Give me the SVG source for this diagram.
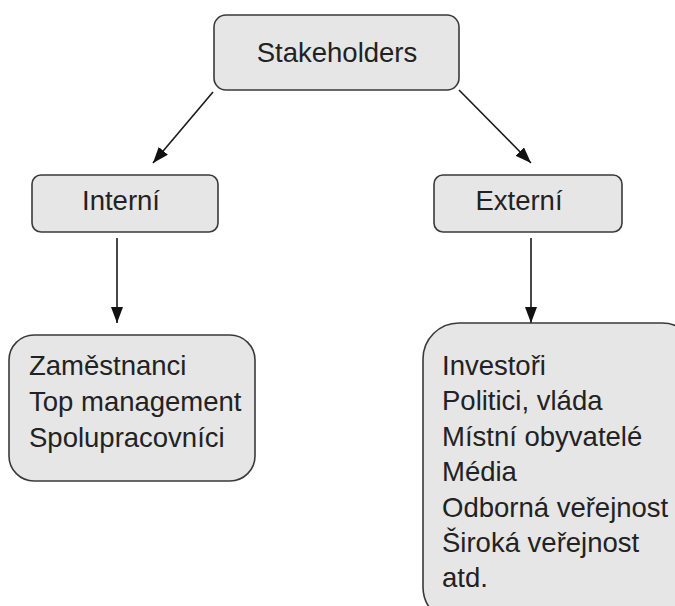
<svg xmlns="http://www.w3.org/2000/svg" width="675" height="606" viewBox="0 0 675 606">
<style>
.box{fill:#e6e6e6;stroke:#3a3a3a;stroke-width:1.6}
.t{font-family:"Liberation Sans",Arial,sans-serif;font-size:27.5px;fill:#222}
.c{text-anchor:middle}
.ln{stroke:#1a1a1a;stroke-width:1.6;fill:none}
</style>
<defs>
<marker id="ah2" viewBox="0 0 16 12" refX="16" refY="6" markerWidth="16" markerHeight="12" markerUnits="userSpaceOnUse" orient="auto">
<path d="M0,0 L16,6 L0,12 Z" fill="#111"/>
</marker>
</defs>
<rect width="675" height="606" fill="#fff"/>
<g id="connectors">
<line class="ln" x1="213" y1="92" x2="153" y2="163" marker-end="url(#ah2)"/>
<line class="ln" x1="459" y1="90" x2="531" y2="163" marker-end="url(#ah2)"/>
<line class="ln" x1="117" y1="238" x2="117" y2="323" marker-end="url(#ah2)"/>
<line class="ln" x1="531" y1="238" x2="531" y2="323" marker-end="url(#ah2)"/>
</g>
<g id="stakeholders">
<rect class="box" x="214" y="15" width="245" height="75" rx="12"/>
<text class="t c" x="337" y="62">Stakeholders</text>
</g>
<g id="interni">
<rect class="box" x="32" y="175" width="186" height="57" rx="9"/>
<text class="t c" x="121" y="210">Interní</text>
</g>
<g id="externi">
<rect class="box" x="434" y="175" width="188" height="57" rx="9"/>
<text class="t c" x="519" y="210">Externí</text>
</g>
<g id="interni-list">
<rect class="box" x="9" y="335" width="246" height="146" rx="25"/>
<text class="t" x="29" y="375">Zaměstnanci</text>
<text class="t" x="29" y="411">Top management</text>
<text class="t" x="29" y="447">Spolupracovníci</text>
</g>
<g id="externi-list">
<rect class="box" x="423" y="323" width="275" height="300" rx="36"/>
<text class="t" x="442" y="375">Investoři</text>
<text class="t" x="442" y="410">Politici, vláda</text>
<text class="t" x="442" y="446">Místní obyvatelé</text>
<text class="t" x="442" y="481">Média</text>
<text class="t" x="442" y="517">Odborná veřejnost</text>
<text class="t" x="442" y="552">Široká veřejnost</text>
<text class="t" x="442" y="587">atd.</text>
</g>
</svg>
